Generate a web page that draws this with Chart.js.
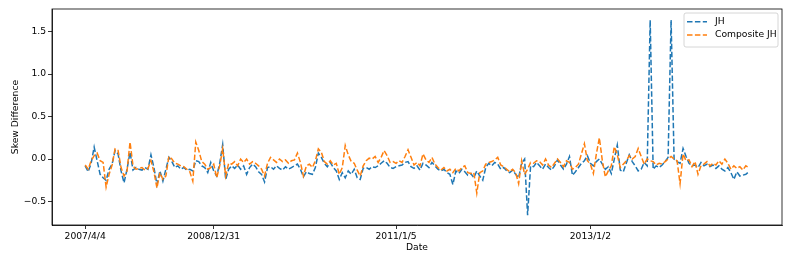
<!DOCTYPE html>
<html>
<head>
<meta charset="utf-8">
<script src="https://cdn.jsdelivr.net/npm/chart.js@4.4.1/dist/chart.umd.min.js"></script>
<style>
  html, body { margin: 0; padding: 0; background: #fff; }
  #wrap { width: 793px; height: 264px; }
</style>
</head>
<body>
<div id="wrap"><canvas id="skewChart" width="793" height="264"></canvas></div>
<script>
// weekly observations, index 0 = 2007/4/4
const jhValues = [
  -0.08, -0.15, -0.05, 0.14, -0.02, -0.18, -0.22, -0.25, -0.12, -0.06,
  0.10, 0.06, -0.14, -0.28, -0.12, 0.08, -0.13, -0.10, -0.12, -0.13,
  -0.10, -0.12, 0.05, -0.10, -0.30, -0.14, -0.26, -0.12, 0.02, -0.03,
  -0.10, -0.08, -0.12, -0.10, -0.13, -0.12, -0.14, -0.02, -0.03, -0.08,
  -0.10, -0.16, -0.04, -0.14, -0.20, -0.05, 0.17, -0.24, -0.12, -0.08,
  -0.11, -0.07, -0.12, -0.08, -0.18, -0.10, -0.06, -0.09, -0.15, -0.18,
  -0.27, -0.10, -0.09, -0.12, -0.08, -0.11, -0.13, -0.09, -0.12, -0.10,
  -0.08, -0.06, -0.12, -0.21, -0.15, -0.17, -0.18, -0.10, 0.07, 0.02,
  -0.05, -0.09, -0.04, -0.10, -0.14, -0.24, -0.16, -0.22, -0.14, -0.18,
  -0.12, -0.22, -0.24, -0.11, -0.10, -0.12, -0.09, -0.10, -0.08, -0.05,
  -0.02, -0.05, -0.10, -0.11, -0.09, -0.08, -0.07, -0.04, -0.03, -0.09,
  -0.11, -0.08, -0.13, -0.05, -0.07, -0.10, -0.04, -0.08, -0.12, -0.14,
  -0.12, -0.16, -0.18, -0.30, -0.14, -0.17, -0.12, -0.15, -0.19, -0.17,
  -0.22, -0.14, -0.20, -0.25, -0.10, -0.05, -0.08, -0.04, -0.06, -0.12,
  -0.10, -0.14, -0.16, -0.13, -0.18, -0.22, -0.05, 0.00, -0.66, -0.08,
  -0.09, -0.04, -0.08, -0.12, -0.06, -0.10, -0.13, -0.08, -0.01, -0.07,
  -0.12, -0.06, 0.03, -0.19, -0.15, -0.10, -0.05, -0.02, 0.04, -0.05,
  -0.08, -0.03, 0.00, -0.06, -0.12, -0.09, -0.17, 0.00, 0.165, -0.13,
  -0.15, -0.05, 0.05, -0.03, -0.08, -0.14, -0.12, -0.04, -0.08, 1.635,
  -0.12, -0.08, -0.10, -0.07, -0.03, 0.02, 1.635, 0.00, -0.03, -0.05,
  0.125, 0.03, -0.05, -0.08, -0.07, -0.10, -0.04, -0.08, -0.06, -0.09,
  -0.07, -0.11, -0.08, -0.12, -0.14, -0.10, -0.16, -0.24, -0.15, -0.20,
  -0.19, -0.18, -0.15
];
const compositeValues = [
  -0.07, -0.12, -0.02, 0.04, 0.07, -0.02, -0.04, -0.33, -0.18, -0.07,
  0.12, 0.10, -0.10, -0.20, -0.14, 0.20, -0.08, -0.12, -0.11, -0.10,
  -0.13, -0.11, -0.02, -0.15, -0.34, -0.16, -0.24, -0.20, 0.03, 0.00,
  -0.05, -0.06, -0.08, -0.09, -0.12, -0.15, -0.26, 0.20, 0.10, -0.03,
  -0.06, -0.12, -0.10, -0.06, -0.22, -0.08, 0.12, -0.20, -0.05, -0.06,
  -0.03, -0.08, 0.00, -0.04, 0.00, -0.06, -0.03, -0.05, -0.08, -0.12,
  -0.20, -0.05, 0.02, -0.01, -0.04, 0.00, -0.03, -0.01, -0.05, -0.02,
  -0.01, 0.07, -0.04, -0.20, -0.08, -0.06, -0.10, -0.02, 0.12, 0.08,
  -0.03, -0.06, -0.02, -0.07, -0.05, -0.18, -0.10, 0.16, 0.05, -0.03,
  -0.05, -0.13, -0.20, -0.08, -0.02, 0.01, 0.00, 0.03, -0.04, 0.02,
  0.10, 0.04, -0.04, -0.03, -0.05, -0.02, -0.04, 0.03, 0.11, 0.02,
  -0.07, -0.04, -0.08, 0.06, -0.01, -0.04, 0.02, -0.06, -0.10, -0.13,
  -0.10, -0.14, -0.12, -0.16, -0.11, -0.14, -0.10, -0.08, -0.16, -0.17,
  -0.16, -0.40, -0.16, -0.14, -0.06, -0.04, -0.03, -0.01, 0.02, -0.07,
  -0.09, -0.12, -0.15, -0.12, -0.16, -0.29, -0.02, -0.18, -0.12, -0.04,
  -0.05, -0.02, -0.03, -0.07, 0.00, -0.07, -0.10, -0.05, 0.00, -0.04,
  -0.09, -0.02, -0.04, -0.12, -0.10, -0.06, 0.06, 0.18, -0.02, -0.06,
  -0.17, 0.06, 0.25, -0.02, -0.21, -0.14, -0.08, 0.145, 0.05, -0.10,
  -0.06, -0.02, 0.04, 0.00, 0.03, 0.125, 0.03, -0.06, 0.00, -0.02,
  -0.03, -0.07, -0.05, -0.06, -0.03, 0.00, 0.03, 0.00, -0.02, -0.29,
  0.06, -0.02, -0.01, -0.09, -0.03, -0.18, -0.08, -0.06, -0.03, -0.08,
  -0.05, -0.07, -0.02, -0.06, 0.00, -0.05, -0.12, -0.08, -0.11, -0.09,
  -0.13, -0.08, -0.10
];
const dateTickIdx = [0, 43, 104, 169];
const dateTickLabels = ['2007/4/4', '2008/12/31', '2011/1/5', '2013/1/2'];
const yTicks = [-0.5, 0, 0.5, 1.0, 1.5];

const FONT = { family: 'DejaVu Sans', size: 9.2 };
const lastIdx = jhValues.length - 1;

const toPoints = arr => arr.map((v, i) => ({ x: i, y: v }));

// black box around the plot area + legend in the upper right
const frameAndLegend = {
    id: 'frameAndLegend',
    afterDraw(chart) {
        const { ctx, chartArea: a } = chart;
        ctx.save();
        ctx.strokeStyle = '#000';
        ctx.lineWidth = 0.8;
        ctx.strokeRect(a.left, a.top, a.right - a.left, a.bottom - a.top);

        const bx = 684, by = 13, bw = 94, bh = 34;
        ctx.fillStyle = 'rgba(255,255,255,0.8)';
        ctx.strokeStyle = '#cccccc';
        ctx.lineWidth = 0.8;
        ctx.beginPath();
        ctx.roundRect(bx, by, bw, bh, 2);
        ctx.fill();
        ctx.stroke();

        const entries = [chart.data.datasets[0], chart.data.datasets[1]];
        entries.forEach((ds, k) => {
            const y = by + 8.7 + k * 13.3;
            ctx.strokeStyle = ds.borderColor;
            ctx.lineWidth = 1.5;
            ctx.setLineDash(ds.borderDash);
            ctx.beginPath();
            ctx.moveTo(bx + 3, y);
            ctx.lineTo(bx + 23, y);
            ctx.stroke();
            ctx.setLineDash([]);
            ctx.fillStyle = '#000';
            ctx.font = '9.2px "DejaVu Sans"';
            ctx.textBaseline = 'middle';
            ctx.fillText(ds.label, bx + 31, y);
        });
        ctx.restore();
    }
};

new Chart(document.getElementById('skewChart'), {
    type: 'line',
    data: {
        datasets: [{
            label: 'JH',
            data: toPoints(jhValues),
            borderColor: '#1f77b4',
            borderWidth: 1.5,
            borderDash: [5.5, 2.4],
            pointRadius: 0,
            tension: 0,
            fill: false,
            order: 1
        }, {
            label: 'Composite JH',
            data: toPoints(compositeValues),
            borderColor: '#ff7f0e',
            borderWidth: 1.5,
            borderDash: [5.5, 2.4],
            pointRadius: 0,
            tension: 0,
            fill: false,
            order: 0
        }]
    },
    options: {
        responsive: false,
        animation: false,
        layout: { padding: { top: 9, right: 11, left: 0, bottom: 0 } },
        plugins: {
            legend: { display: false },
            tooltip: { enabled: false }
        },
        scales: {
            x: {
                type: 'linear',
                min: -0.05 * lastIdx,
                max: 1.05 * lastIdx,
                afterBuildTicks: axis => { axis.ticks = dateTickIdx.map(v => ({ value: v })); },
                afterFit: axis => { axis.height = 39; },
                ticks: {
                    autoSkip: false,
                    maxRotation: 0,
                    color: '#000',
                    font: FONT,
                    padding: 2,
                    callback: v => dateTickLabels[dateTickIdx.indexOf(v)]
                },
                grid: { drawOnChartArea: false, tickLength: 4, color: '#000', lineWidth: 0.8 },
                border: { display: true, color: '#000', width: 0.8 },
                title: { display: true, text: 'Date', color: '#000', font: FONT, padding: { top: 0, bottom: 11 } }
            },
            y: {
                min: -0.776,
                max: 1.765,
                afterBuildTicks: axis => { axis.ticks = yTicks.map(v => ({ value: v })); },
                afterFit: axis => { axis.width = 52; },
                ticks: {
                    color: '#000',
                    font: FONT,
                    padding: 2,
                    callback: v => v.toFixed(1).replace('-', '\u2212')
                },
                grid: { drawOnChartArea: false, tickLength: 4, color: '#000', lineWidth: 0.8 },
                border: { display: true, color: '#000', width: 0.8 },
                title: { display: true, text: 'Skew Difference', color: '#000', font: FONT, padding: { top: 10, bottom: 0 } }
            }
        }
    },
    plugins: [frameAndLegend]
});
</script>
</body>
</html>
